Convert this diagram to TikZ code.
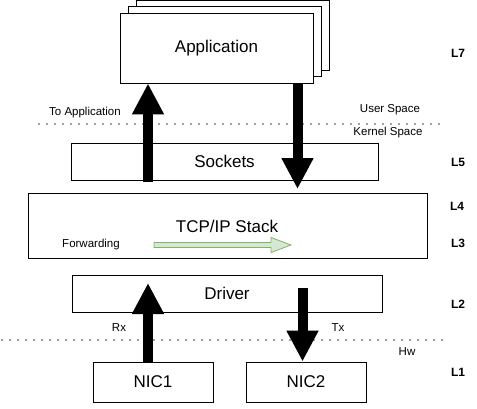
\documentclass[tikz,border=0pt]{standalone}
\usepackage{fontspec}
\setmainfont{Liberation Sans}
\usetikzlibrary{arrows.meta,calc}
\definecolor{fwdfill}{HTML}{D5E8D4}
\definecolor{fwdline}{HTML}{82B366}
\definecolor{arrline}{HTML}{333300}
\tikzset{
  box/.style={draw=black, line width=0.9pt, fill=white, inner sep=0pt, font=\fontsize{17}{20}\selectfont},
  small/.style={inner sep=0pt, font=\fontsize{11.5}{13}\selectfont},
  layer/.style={inner sep=0pt, font=\bfseries\fontsize{12}{14}\selectfont},
  bigarrow/.style={line width=10pt, draw=black, -{Triangle[length=31pt,width=30pt]}},
  sepline/.style={line width=1.6pt, draw=black!75, line cap=round, dash pattern=on 0pt off 8pt}
}
\begin{document}
\begin{tikzpicture}[x=1pt,y=-1pt]
\useasboundingbox (0,0) rectangle (477,408);
% application stack
\node[box, minimum width=193pt, minimum height=70pt] (app3) at (232.5,35.5) {};
\node[box, minimum width=193pt, minimum height=70pt] (app2) at (224.5,41.5) {};
\node[box, minimum width=193pt, minimum height=70pt] (app) at (216.5,48) {Application};
% boxes
\node[box, minimum width=307pt, minimum height=37pt] (sock) at (224.5,161.5) {Sockets};
\node[box, minimum width=399pt, minimum height=65pt, text depth=0pt] (tcp) at (227.5,225.5) {};
\node[inner sep=0pt, font=\fontsize{17}{20}\selectfont] (tcplbl) at (227,226) {TCP/IP Stack};
\node[box, minimum width=310pt, minimum height=37pt] (drv) at (227,293.5) {Driver};
\node[box, minimum width=120pt, minimum height=40pt] (nic1) at (153,382) {NIC1};
\node[box, minimum width=120pt, minimum height=40pt] (nic2) at (306,382) {NIC2};
% separators
\coordinate (u1) at (39,124);
\coordinate (u2) at (440,124);
\coordinate (h1) at (2,340);
\coordinate (h2) at (443,340);
\draw[sepline] (u1) -- (u2);
\draw[sepline] (h1) -- (h2);
% labels
\node[small] (toapp) at (85,113) {To Application};
\node[small] (user) at (390,110) {User Space};
\node[small] (kern) at (388,133) {Kernel Space};
\node[small] (fwd) at (91,245) {Forwarding};
\node[small] (rx) at (119,328) {Rx};
\node[small] (tx) at (338,328) {Tx};
\node[small] (hw) at (407,352) {Hw};
\node[layer] (l7) at (458,53) {L7};
\node[layer] (l5) at (458,162) {L5};
\node[layer] (l4) at (457,206) {L4};
\node[layer] (l3) at (458,243) {L3};
\node[layer] (l2) at (458,304) {L2};
\node[layer] (l1) at (458,372) {L1};
% big arrows
\coordinate (upx) at (148,0);
\coordinate (dnx) at (297.5,0);
\coordinate (txx) at (302.5,0);
\coordinate (dnend) at (297.5,189);
\coordinate (txstart) at (302.5,288);
\coordinate (rxend) at (148,283);
\draw[bigarrow] (upx |- 0,182) -- (app.south -| upx);
\draw[bigarrow] (app.south -| dnx) -- (dnend);
\draw[bigarrow] (nic1.north -| upx) -- (rxend);
\draw[bigarrow] (txstart) -- (nic2.north -| txx);
% forwarding arrow
\coordinate (fs) at (154,245);
\coordinate (fe) at (291,245);
\draw[fwdline, fill=fwdfill, line width=0.8pt, line join=miter]
  ($(fs)+(0,-2.5)$) -- ($(fe)+(-20,-2.5)$) -- ($(fe)+(-20,-7.5)$) -- (fe)
  -- ($(fe)+(-20,7.5)$) -- ($(fe)+(-20,2.5)$) -- ($(fs)+(0,2.5)$) -- cycle;
\end{tikzpicture}
\end{document}
